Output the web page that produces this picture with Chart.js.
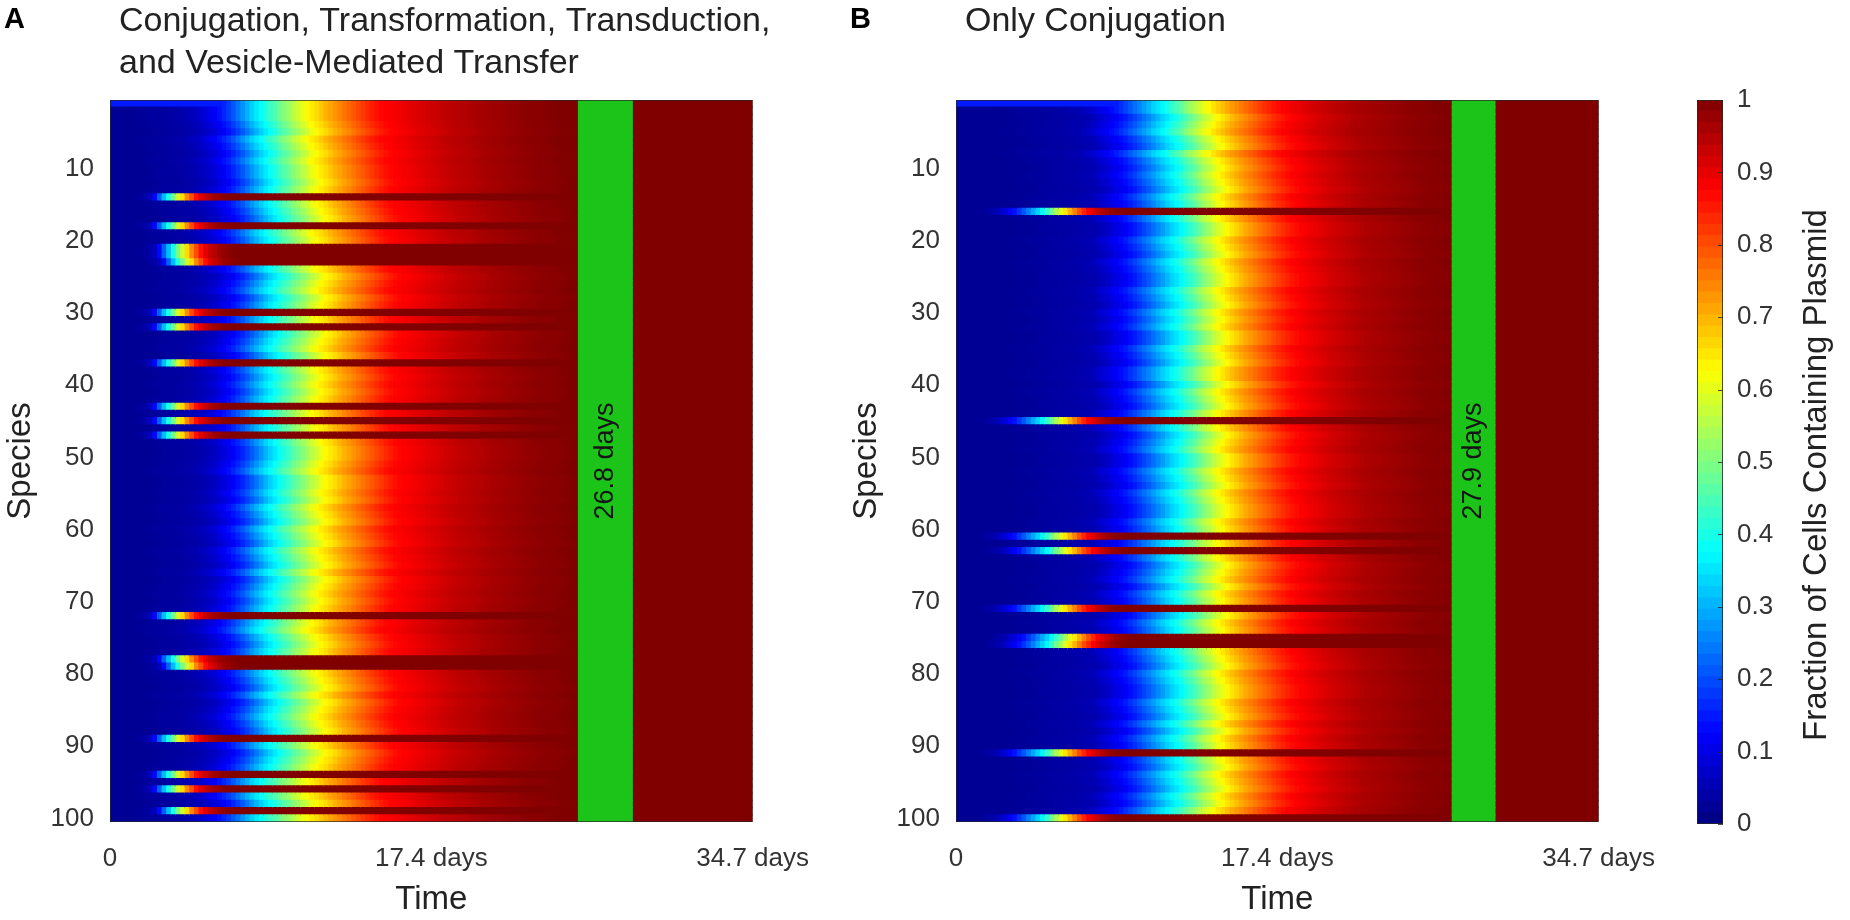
<!DOCTYPE html>
<html lang="en">
<head>
<meta charset="UTF-8">
<title>Plasmid spread over time</title>
<script src="https://cdn.jsdelivr.net/npm/chart.js"></script>
<style>
    body { margin: 0; background: #fff; width: 1850px; height: 920px; overflow: hidden; position: relative; }
    canvas { position: absolute; top: 0; }
    #panelA { left: 0; }
    #panelB { left: 846px; }
    #colorbar { left: 1650px; }
</style>
</head>
<body>
<canvas id="panelA" width="830" height="920"></canvas>
<canvas id="panelB" width="830" height="920"></canvas>
<canvas id="colorbar" width="200" height="920"></canvas>
<script>
// ---- data ----
const timeEnd = 34.7;          // days, right edge of both panels
const timeStep = 0.25;         // width of one heatmap column (days)
const xTickValues = [0, 17.35, 34.7];
const xTickLabels = ['0', '17.4 days', '34.7 days'];
const yTickLabels = ['10', '20', '30', '40', '50', '60', '70', '80', '90', '100'];

const species = [];
for (let i = 1; i <= 100; i++) species.push(String(i));

const titleA = ['Conjugation, Transformation, Transduction,', 'and Vesicle-Mediated Transfer'];
const titleB = ['Only Conjugation'];

// fraction with plasmid for a typical species, one value per 0.25 day column
const profileA = [
    0.02, 0.02, 0.02, 0.02, 0.02, 0.02, 0.02, 0.022, 0.025, 0.027,
    0.03, 0.03, 0.03, 0.032, 0.035, 0.037, 0.04, 0.045, 0.05, 0.057,
    0.065, 0.077, 0.09, 0.105, 0.12, 0.14, 0.16, 0.185, 0.21, 0.24,
    0.27, 0.30, 0.33, 0.355, 0.38, 0.405, 0.43, 0.455, 0.48, 0.505,
    0.53, 0.555, 0.58, 0.605, 0.63, 0.645, 0.66, 0.68, 0.70, 0.715,
    0.73, 0.745, 0.76, 0.775, 0.79, 0.805, 0.82, 0.835, 0.85, 0.86,
    0.87, 0.875, 0.88, 0.885, 0.89, 0.895, 0.90, 0.905, 0.91, 0.915,
    0.92, 0.925, 0.93, 0.935, 0.94, 0.942, 0.945, 0.948, 0.95, 0.955,
    0.96, 0.962, 0.965, 0.968, 0.97, 0.972, 0.975, 0.978, 0.98, 0.982,
    0.985, 0.988, 0.99, 0.99, 0.99, 0.992, 0.995, 0.998, 1];
const profileB = [
    0.02, 0.02, 0.02, 0.02, 0.02, 0.02, 0.02, 0.02, 0.02, 0.02,
    0.02, 0.022, 0.025, 0.025, 0.025, 0.027, 0.03, 0.03, 0.03, 0.032,
    0.035, 0.035, 0.035, 0.037, 0.04, 0.042, 0.045, 0.047, 0.05, 0.058,
    0.07, 0.082, 0.095, 0.107, 0.12, 0.135, 0.15, 0.17, 0.19, 0.212,
    0.235, 0.257, 0.28, 0.305, 0.33, 0.35, 0.37, 0.395, 0.42, 0.445,
    0.47, 0.50, 0.53, 0.555, 0.58, 0.605, 0.63, 0.65, 0.67, 0.69,
    0.71, 0.725, 0.74, 0.755, 0.77, 0.785, 0.80, 0.815, 0.83, 0.843,
    0.855, 0.865, 0.875, 0.882, 0.89, 0.895, 0.90, 0.908, 0.915, 0.92,
    0.925, 0.93, 0.935, 0.94, 0.945, 0.95, 0.955, 0.958, 0.96, 0.962,
    0.965, 0.968, 0.97, 0.972, 0.975, 0.978, 0.98, 0.982, 0.985, 0.988,
    0.99, 0.99, 0.99, 0.992, 0.995, 0.998, 1];

// species that pick the plasmid up early (the dark red stripes)
const hubProfileA = [
    0.02, 0.02, 0.02, 0.02, 0.02, 0.025, 0.03, 0.04, 0.06, 0.13,
    0.22, 0.31, 0.40, 0.49, 0.58, 0.66, 0.74, 0.80, 0.86, 0.90,
    0.93, 0.95, 0.97, 0.98, 0.99, 0.995, 1];
const hubProfileB = [
    0.02, 0.02, 0.02, 0.02, 0.02, 0.025, 0.03, 0.04, 0.05, 0.07,
    0.09, 0.115, 0.14, 0.175, 0.21, 0.25, 0.29, 0.33, 0.37, 0.425,
    0.48, 0.54, 0.60, 0.65, 0.70, 0.75, 0.80, 0.84, 0.88, 0.905,
    0.93, 0.95, 0.97, 0.98, 0.99, 0.995, 1];
const hubRowsA = [14, 18, 21, 22, 23, 30, 32, 37, 43, 45, 47, 72, 78, 79, 89, 94, 96, 99];
const hubRowsB = [16, 45, 61, 63, 71, 75, 76, 91, 100];

// per species lag, in columns (+ = later)
const rowShiftA = [
    -2, -2, -2, -1, 0, -2, -1, 0, -1, 0,
    0, 1, 0, 0, 0, 1, 2, 0, -1, 0,
    1, 1, 2, 0, 2, 1, 0, 2, 1, 0,
    0, 0, 2, 1, 0, 2, 0, 0, 1, 0,
    1, 0, 0, -1, 0, 0, 0, 1, 2, 2,
    1, 0, 2, 2, 1, 2, 0, 1, 2, 0,
    1, 2, 0, 1, 2, 0, 2, 1, 0, 1,
    0, 0, -1, -2, 0, 1, 0, 1, 2, 0,
    1, 2, 0, 2, 1, 0, 1, 2, 0, 0,
    2, 1, 0, 0, -2, 0, -2, 0, 1, -2];
const rowShiftB = [
    -2, -2, 0, -1, -2, 0, 1, -2, 0, 1,
    0, 1, 2, 0, 1, 0, 0, 2, 2, 0,
    1, 2, 0, 1, 2, 2, 0, 1, 2, 0,
    1, 0, 2, 2, 0, 1, 2, 0, 0, 2,
    0, 1, 2, 0, 0, 0, 2, 1, 0, 2,
    2, 0, 1, 2, 0, 1, 2, 2, 0, 1,
    0, 0, 1, 0, 2, 1, 0, 2, 0, 1,
    0, 2, 0, 1, 2, 1, 0, 1, 2, 0,
    1, 2, 2, 0, 1, 2, 0, 2, 0, 1,
    0, 1, 2, 0, 1, 2, 0, 1, -1, 0];
const donorLevel = 0.15;       // species 1 starts partly plasmid-bearing

// green marker: time when every species carries the plasmid
const markDayA = 26.8;
const markDayB = 27.9;
const markBandA = [25.3, 28.2];
const markBandB = [26.8, 29.1];

const cbTickValues = [0, 0.1, 0.2, 0.3, 0.4, 0.5, 0.6, 0.7, 0.8, 0.9, 1];
const cbTickLabels = ['0', '0.1', '0.2', '0.3', '0.4', '0.5', '0.6', '0.7', '0.8', '0.9', '1'];
const cbLevels = 64;

// ---- styling ----
const FONT = '"Liberation Sans", Arial, Helvetica, sans-serif';
const tickColor = '#333333';
const titleColor = '#222222';
const markGreen = '#1cc41a';
Chart.defaults.font.family = FONT;

function jet(v) {
    const c = x => Math.round(255 * Math.min(1, Math.max(0, x)));
    return 'rgb(' + c(1.5 - Math.abs(4 * v - 3)) + ',' + c(1.5 - Math.abs(4 * v - 2)) + ',' + c(1.5 - Math.abs(4 * v - 1)) + ')';
}

function cellValue(p, row, col) {
    const prof = p.hubRows.includes(row) ? p.hub : p.profile;
    const k = Math.min(Math.max(col - p.shift[row - 1], 0), prof.length - 1);
    let v = prof[k];
    if (row === 1) v = Math.max(v, donorLevel);
    return v;
}

function heatDatasets(p) {
    const sets = [{
        data: species.map(() => p.band),
        backgroundColor: markGreen,
        order: 0
    }];
    const nCols = Math.ceil(timeEnd / timeStep - 1e-9);
    for (let c = 0; c < nCols; c++) {
        const span = [c * timeStep, Math.min((c + 1) * timeStep, timeEnd)];
        sets.push({
            data: species.map(() => span),
            backgroundColor: species.map((s, i) => jet(cellValue(p, i + 1, c))),
            order: 1
        });
    }
    return sets;
}

const panelText = {
    id: 'panelText',
    afterDatasetsDraw(chart, args, o) {
        const { ctx, chartArea: a, scales: { x } } = chart;
        ctx.save();
        ctx.strokeStyle = 'rgba(38,38,38,0.7)';
        ctx.lineWidth = 1;
        ctx.strokeRect(a.left + 0.5, a.top + 0.5, a.width - 1, a.height - 1);
        const bx = x.getPixelForValue((o.band[0] + o.band[1]) / 2);
        ctx.translate(bx, (a.top + a.bottom) / 2);
        ctx.rotate(-Math.PI / 2);
        ctx.fillStyle = '#151515';
        ctx.font = '27px ' + FONT;
        ctx.textAlign = 'center';
        ctx.textBaseline = 'middle';
        ctx.fillText(o.mark + ' days', 0, 0);
        ctx.restore();

        ctx.save();
        ctx.textAlign = 'left';
        ctx.textBaseline = 'alphabetic';
        ctx.fillStyle = '#000';
        ctx.font = 'bold 29px ' + FONT;
        ctx.fillText(o.letter, 4, 28);
        ctx.fillStyle = titleColor;
        ctx.font = '34px ' + FONT;
        o.title.forEach((line, i) => ctx.fillText(line, a.left + 9, 31 + 42 * i));
        ctx.restore();
    }
};

function panelChart(id, p) {
    return new Chart(document.getElementById(id), {
        type: 'bar',
        data: { labels: species, datasets: heatDatasets(p) },
        options: {
            indexAxis: 'y',
            responsive: false,
            animation: false,
            events: [],
            devicePixelRatio: 1,
            layout: { padding: { top: 100, right: 76, left: 0, bottom: 0 } },
            datasets: { bar: { barPercentage: 1, categoryPercentage: 1, grouped: false, borderWidth: 0, inflateAmount: 0.6 } },
            plugins: {
                legend: { display: false },
                tooltip: { enabled: false },
                panelText: { letter: p.letter, title: p.title, band: p.band, mark: p.mark }
            },
            scales: {
                x: {
                    type: 'linear', min: 0, max: timeEnd,
                    afterBuildTicks: s => { s.ticks = xTickValues.map(v => ({ value: v })); },
                    afterFit: s => { s.height = 98; },
                    grid: { display: false, drawTicks: false },
                    border: { display: false },
                    ticks: {
                        autoSkip: false, maxRotation: 0, padding: 21, color: tickColor,
                        font: { size: 26 },
                        callback: (v, i) => xTickLabels[i]
                    },
                    title: { display: true, text: 'Time', color: titleColor, font: { size: 33 }, padding: { top: 0, bottom: 0 } }
                },
                y: {
                    type: 'category',
                    afterFit: s => { s.width = 110; },
                    grid: { display: false, drawTicks: false },
                    border: { display: false },
                    ticks: {
                        autoSkip: false, padding: 16, color: tickColor,
                        font: { size: 26 },
                        callback: (v, i) => yTickLabels.includes(species[i]) ? species[i] : ''
                    },
                    title: { display: true, text: 'Species', color: titleColor, font: { size: 33 }, padding: { top: 1, bottom: 0 } }
                }
            }
        },
        plugins: [panelText]
    });
}

panelChart('panelA', {
    letter: 'A', title: titleA, profile: profileA, hub: hubProfileA,
    hubRows: hubRowsA, shift: rowShiftA, band: markBandA, mark: markDayA
});
panelChart('panelB', {
    letter: 'B', title: titleB, profile: profileB, hub: hubProfileB,
    hubRows: hubRowsB, shift: rowShiftB, band: markBandB, mark: markDayB
});

// ---- colour bar ----
const colorbarText = {
    id: 'colorbarText',
    afterDraw(chart, args, o) {
        const { ctx, chartArea: a, scales: { y } } = chart;
        ctx.save();
        ctx.strokeStyle = 'rgba(38,38,38,0.8)';
        ctx.lineWidth = 1;
        ctx.strokeRect(a.left + 0.5, a.top + 0.5, a.width - 1, a.height - 1);
        cbTickValues.forEach(v => {
            const py = Math.round(y.getPixelForValue(v)) + 0.5;
            ctx.beginPath();
            ctx.moveTo(a.right - 5, py);
            ctx.lineTo(a.right, py);
            ctx.stroke();
        });
        ctx.translate(o.x, o.y);
        ctx.rotate(-Math.PI / 2);
        ctx.fillStyle = titleColor;
        ctx.font = '33px ' + FONT;
        ctx.textAlign = 'center';
        ctx.textBaseline = 'middle';
        ctx.fillText(o.text, 0, 0);
        ctx.restore();
    }
};

const cbSets = [];
for (let k = 0; k < cbLevels; k++) {
    cbSets.push({ data: [[k / cbLevels, (k + 1) / cbLevels]], backgroundColor: jet((k + 0.5) / cbLevels) });
}

new Chart(document.getElementById('colorbar'), {
    type: 'bar',
    data: { labels: [''], datasets: cbSets },
    options: {
        responsive: false,
        animation: false,
        events: [],
        devicePixelRatio: 1,
        layout: { padding: { left: 47, top: 100, bottom: 96, right: 0 } },
        datasets: { bar: { barPercentage: 1, categoryPercentage: 1, grouped: false, borderWidth: 0, inflateAmount: 0.6 } },
        plugins: {
            legend: { display: false },
            tooltip: { enabled: false },
            colorbarText: { text: 'Fraction of Cells Containing Plasmid', x: 167, y: 475 }
        },
        scales: {
            x: { display: false },
            y: {
                position: 'right', min: 0, max: 1,
                afterBuildTicks: s => { s.ticks = cbTickValues.map(v => ({ value: v })); },
                afterFit: s => { s.width = 127; },
                grid: { display: false, drawTicks: false },
                border: { display: false },
                ticks: { padding: 14, color: tickColor, font: { size: 26 }, callback: (v, i) => cbTickLabels[i] }
            }
        }
    },
    plugins: [colorbarText]
});
</script>
</body>
</html>
